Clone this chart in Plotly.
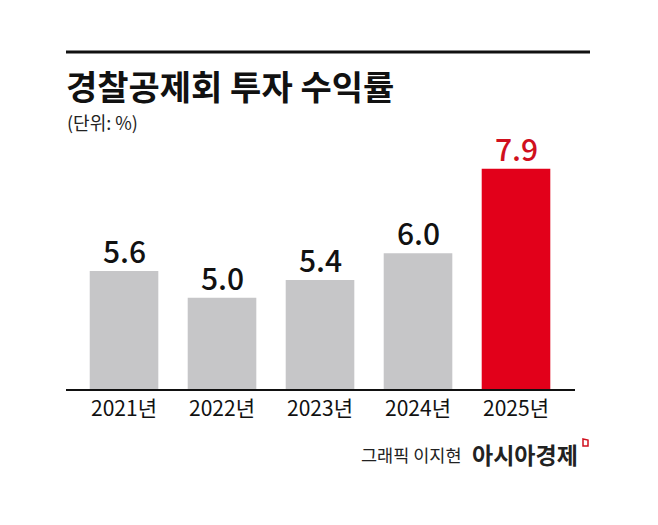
import plotly.graph_objects as go

years = ["2021년", "2022년", "2023년", "2024년", "2025년"]
returns = [5.6, 5.0, 5.4, 6.0, 7.9]
bar_colors = ["#c6c6c8", "#c6c6c8", "#c6c6c8", "#c6c6c8", "#e2001a"]
label_colors = ["#111111", "#111111", "#111111", "#111111", "#d0101e"]

W, H = 658, 525
OFF = 8                 # page body offset compensation
L, R = 66 - OFF, 575 - OFF   # plot area pixels x
T, B = 160 - OFF, 389 - OFF  # plot area pixels y

def px(x):
    return (x - OFF - L) / (R - L)

def py(y):
    return (B - (y - OFF)) / (B - T)

FONT = "Noto Sans CJK KR"

fig = go.Figure()
fig.add_trace(go.Bar(
    x=list(range(len(years))),
    y=returns,
    marker=dict(color=bar_colors, line=dict(width=0)),
    width=0.70,
    cliponaxis=False,
    hoverinfo="skip",
))

for i, v in enumerate(returns):
    fig.add_annotation(x=i, y=v, xref="x", yref="y", text=f"{v:.1f}",
                       showarrow=False, yanchor="bottom", yshift=-3,
                       font=dict(family=FONT, size=30, color=label_colors[i], weight=500))

fig.update_layout(
    width=W, height=H,
    margin=dict(l=L, r=W - R, t=T, b=H - B, pad=0),
    paper_bgcolor="white", plot_bgcolor="white",
    showlegend=False,
    font=dict(family=FONT, color="#111111"),
    xaxis=dict(
        tickmode="array",
        tickvals=list(range(len(years))),
        ticktext=years,
        range=[-0.592, 4.602],
        showgrid=False, zeroline=False,
        showline=True, linecolor="#111111", linewidth=2,
        ticks="", tickfont=dict(family=FONT, size=21, color="#111111"),
        fixedrange=True,
    ),
    yaxis=dict(
        range=[2.95, 8.096],
        visible=False, showgrid=False, zeroline=False,
        fixedrange=True,
    ),
)

# top rule
fig.add_shape(type="line", xref="paper", yref="paper",
              x0=px(66), x1=px(590), y0=py(52), y1=py(52),
              line=dict(color="#111111", width=3))

# title
fig.add_annotation(text="<b>경찰공제회 투자 수익률</b>", xref="paper", yref="paper",
                   x=px(64), y=py(85), xanchor="left", yanchor="middle",
                   showarrow=False, font=dict(family=FONT, size=34, color="#111111"))
fig.add_annotation(text="(단위: %)", xref="paper", yref="paper",
                   x=px(65), y=py(122), xanchor="left", yanchor="middle",
                   showarrow=False, font=dict(family=FONT, size=18, color="#222222"))

# footer credit
fig.add_annotation(text="그래픽 이지현", xref="paper", yref="paper",
                   x=px(464), y=py(454), xanchor="right", yanchor="middle",
                   showarrow=False, font=dict(family=FONT, size=17.5, color="#222222"))
fig.add_annotation(text="<b>아시아경제</b>", xref="paper", yref="paper",
                   x=px(470), y=py(454), xanchor="left", yanchor="middle",
                   showarrow=False, font=dict(family=FONT, size=23, color="#222222"))
fig.add_shape(type="path", xref="paper", yref="paper",
              path=f"M {px(583)} {py(439)} L {px(588)} {py(440)} L {px(588)} {py(446)} L {px(583)} {py(446)} Z",
              line=dict(color="#d0101e", width=1.5), fillcolor="rgba(0,0,0,0)")

fig.write_html("out.html")
